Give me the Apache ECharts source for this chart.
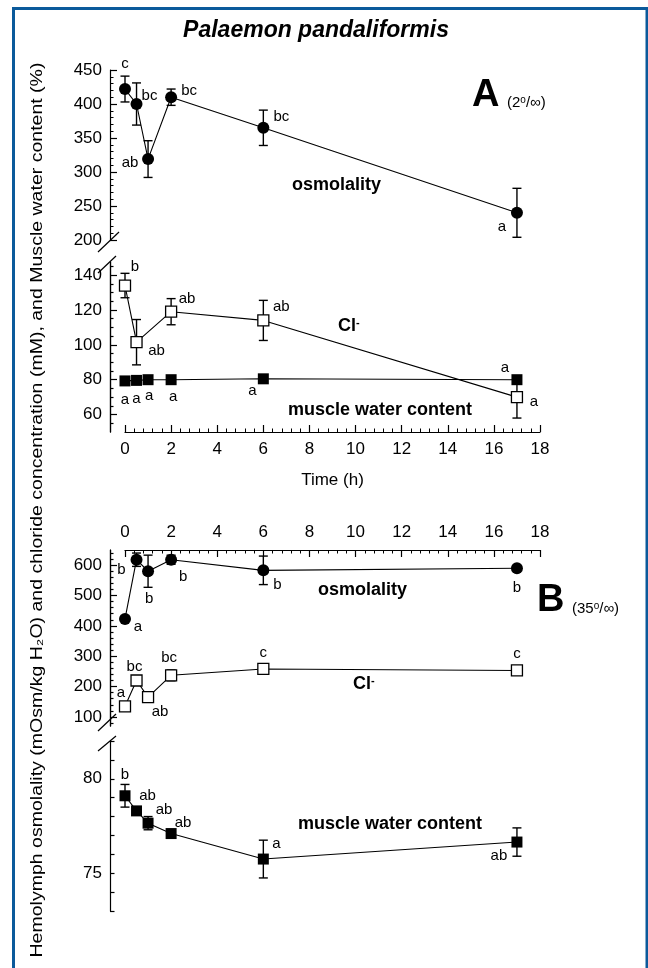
<!DOCTYPE html>
<html><head><meta charset="utf-8">
<script src="https://cdn.jsdelivr.net/npm/echarts@6/dist/echarts.min.js"></script>
<style>html,body{margin:0;padding:0;background:#fff}#c{width:648px;height:968px}</style>
</head><body><div id="c"></div>
<script>
// ---------------- DATA ----------------
const timeTicks = [0, 2, 4, 6, 8, 10, 12, 14, 16, 18];
// Panel A (2 ‰)
const tA = [0, 0.5, 1, 2, 6, 17];
const osmA = [422, 400, 319, 410, 365, 240];
const osmAErr = [19, 31, 27, 12, 26, 36];
const osmALetters = ['c', 'bc', 'ab', 'bc', 'bc', 'a'];
const tClA = [0, 0.5, 2, 6, 17];
const clA = [134, 101.5, 119, 114, 70];
const clAErr = [7, 13, 7.5, 11.5, 12];
const clALetters = ['b', 'ab', 'ab', 'ab', 'a'];
const mwcA = [79.3, 79.6, 80, 80, 80.5, 80];
const mwcALetters = ['a', 'a', 'a', 'a', 'a', 'a'];
const osmATicks = [200, 250, 300, 350, 400, 450];
const clATicks = [60, 80, 100, 120, 140];
// Panel B (35 ‰)
const tB = [0, 0.5, 1, 2, 6, 17];
const osmB = [423, 618, 580, 618, 583, 590];
const osmBErr = [8, 22, 53, 15, 47, 8];
const osmBLetters = ['a', 'b', 'b', 'b', 'b', 'b'];
const clB = [135, 220, 165, 237, 258, 253];
const clBErr = [6, 6, 6, 18, 6, 6];
const clBLetters = ['a', 'bc', 'ab', 'bc', 'c', 'c'];
const mwcB = [79.1, 78.3, 77.65, 77.1, 75.75, 76.65];
const mwcBErr = [0.6, 0.15, 0.35, 0.15, 1.0, 0.75];
const mwcBLetters = ['b', 'ab', 'ab', 'ab', 'a', 'ab'];
const osmBTicks = [100, 200, 300, 400, 500, 600];
const mwcBTicks = [75, 80];

// ---------------- LAYOUT / STYLE ----------------
const FONT = '"Liberation Sans", Arial, sans-serif';
const offOsmA = [[0,-25],[13,-8],[-18,4],[18,-6],[18,-11],[-15,14]];
const offClA = [[10,-19],[20,9],[16,-13],[18,-14],[17,5]];
const offMwcA = [[0,19],[0,18],[1,16],[2,17],[-11,12],[-12,-12]];
const offOsmB = [[13,8],[-15,10],[1,28],[12,17],[14,15],[0,20]];
const offClB = [[-4,-13],[-2,-14],[12,15],[-2,-17],[0,-16],[0,-17]];
const offMwcB = [[0,-21],[11,-15],[16,-13],[12,-11],[13,-15],[-18,14]];

function range(a, b, step, exclude) {
  const r = [];
  for (let v = a; v <= b + 1e-9; v += step) {
    if (!exclude || exclude.indexOf(v) < 0) r.push(v);
  }
  return r;
}

const chart = echarts.init(document.getElementById('c'), null, {renderer: 'canvas'});

const axisLineStyle = {show: true, onZero: false, lineStyle: {color: '#000', width: 1.2}};
const labelStyle = {color: '#000', fontSize: 17, fontFamily: FONT};

function xAx(gridIndex, show, position) {
  return {
    type: 'value', gridIndex, min: 0, max: 18, interval: 2, show,
    position: position || 'bottom',
    axisLine: axisLineStyle,
    axisTick: {show: true, inside: true, length: 7, lineStyle: {color: '#000', width: 1.2}},
    minorTick: {show: true, splitNumber: 5, length: 3.5, lineStyle: {color: '#000', width: 1}},
    axisLabel: Object.assign({margin: 9, customValues: timeTicks}, labelStyle),
    splitLine: {show: false}, minorSplitLine: {show: false}
  };
}
function yAx(gridIndex, min, max, labels, ticks, tickLen, opts) {
  return Object.assign({
    type: 'value', gridIndex, min, max, offset: 15, position: 'left',
    axisLine: axisLineStyle,
    axisTick: {show: true, inside: true, length: tickLen, customValues: ticks, lineStyle: {color: '#000', width: 1.2}},
    axisLabel: labels ? Object.assign({margin: 8, customValues: labels}, labelStyle) : {show: false},
    splitLine: {show: false}
  }, opts || {});
}

function lineSeries(xi, yi, xs, ys, symbol, size, fill) {
  return {
    type: 'line', xAxisIndex: xi, yAxisIndex: yi,
    data: xs.map((x, i) => [x, ys[i]]),
    symbol, symbolSize: size, showAllSymbol: true,
    itemStyle: {color: fill, borderColor: '#000', borderWidth: fill === '#fff' ? 1.3 : 0},
    lineStyle: {color: '#000', width: 1.1},
    animation: false, z: 4, clip: false
  };
}
function errSeries(xi, yi, xs, ys, errs) {
  return {
    type: 'custom', xAxisIndex: xi, yAxisIndex: yi, z: 3, animation: false, clip: false,
    data: xs.map((x, i) => [x, ys[i] - errs[i], ys[i] + errs[i]]),
    renderItem: function (params, api) {
      const lo = api.coord([api.value(0), api.value(1)]);
      const hi = api.coord([api.value(0), api.value(2)]);
      const w = 4.5;
      const st = {stroke: '#000', lineWidth: 1.4};
      return {type: 'group', children: [
        {type: 'line', shape: {x1: lo[0], y1: lo[1], x2: hi[0], y2: hi[1]}, style: st},
        {type: 'line', shape: {x1: lo[0] - w, y1: lo[1], x2: lo[0] + w, y2: lo[1]}, style: st},
        {type: 'line', shape: {x1: hi[0] - w, y1: hi[1], x2: hi[0] + w, y2: hi[1]}, style: st}
      ]};
    }
  };
}
function letterSeries(xi, yi, xs, ys, letters, offs) {
  return {
    type: 'scatter', xAxisIndex: xi, yAxisIndex: yi, symbolSize: 1, silent: true,
    itemStyle: {color: 'transparent'}, z: 6, animation: false, clip: false,
    label: {show: true, position: 'inside', color: '#000', fontSize: 15, fontFamily: FONT,
      textBorderWidth: 0, opacity: 1},
    data: xs.map((x, i) => ({value: [x, ys[i]], label: {formatter: letters[i], offset: offs[i]}}))
  };
}

const grids = [
  {left: 125, top: 70, width: 415, height: 170},   // A osmolality
  {left: 125, top: 262, width: 415, height: 170},  // A Cl + muscle
  {left: 125, top: 550, width: 415, height: 176},  // B osm + Cl
  {left: 125, top: 741, width: 415, height: 170}   // B muscle
];

const xAxes = [xAx(0, false), xAx(1, true, 'bottom'), xAx(2, true, 'top'), xAx(3, false)];
xAxes[1].name = 'Time (h)';
xAxes[1].nameLocation = 'middle';
xAxes[1].nameGap = 40;
xAxes[1].nameTextStyle = {color: '#000', fontSize: 17, fontFamily: FONT};

const yAxes = [
  Object.assign(yAx(0, 200, 450, osmATicks, osmATicks, 7), {
    minorTick: {show: true, splitNumber: 5, length: 3.5, lineStyle: {color: '#000'}}, interval: 50
  }),
  yAx(1, 50, 147.5, clATicks, clATicks, 7),
  yAx(1, 50, 147.5, null, range(55, 145, 5, clATicks), 3.5),
  yAx(2, 70, 650, osmBTicks, osmBTicks, 7),
  yAx(2, 70, 650, null, range(80, 640, 20, osmBTicks), 3.5),
  Object.assign(yAx(3, 73, 82, mwcBTicks, range(73, 82, 1), 4.5), {interval: 1})
];

const series = [
  // Panel A
  errSeries(0, 0, tA, osmA, osmAErr),
  lineSeries(0, 0, tA, osmA, 'circle', 12, '#000'),
  letterSeries(0, 0, tA, osmA, osmALetters, offOsmA),
  lineSeries(1, 1, tA, mwcA, 'rect', 11, '#000'),
  letterSeries(1, 1, tA, mwcA, mwcALetters, offMwcA),
  errSeries(1, 1, tClA, clA, clAErr),
  lineSeries(1, 1, tClA, clA, 'rect', 11, '#fff'),
  letterSeries(1, 1, tClA, clA, clALetters, offClA),
  // Panel B
  errSeries(2, 3, tB, osmB, osmBErr),
  lineSeries(2, 3, tB, osmB, 'circle', 12, '#000'),
  letterSeries(2, 3, tB, osmB, osmBLetters, offOsmB),
  errSeries(2, 3, tB, clB, clBErr),
  lineSeries(2, 3, tB, clB, 'rect', 11, '#fff'),
  letterSeries(2, 3, tB, clB, clBLetters, offClB),
  errSeries(3, 5, tB, mwcB, mwcBErr),
  lineSeries(3, 5, tB, mwcB, 'rect', 11, '#000'),
  letterSeries(3, 5, tB, mwcB, mwcBLetters, offMwcB)
];

function txt(x, y, text, font, extra) {
  return {type: 'text', x, y, silent: true, z: 10,
    style: Object.assign({text, font, fill: '#000', textAlign: 'left', textVerticalAlign: 'middle'}, extra || {})};
}
function brk(x1, y1, x2, y2) {
  return {type: 'line', silent: true, z: 10, shape: {x1, y1, x2, y2}, style: {stroke: '#000', lineWidth: 1.2}};
}
const boldF = 'bold 18px ' + FONT;
const subRich = {
  b: {fontSize: 18, fontWeight: 'bold', fontFamily: FONT, fill: '#000'},
  s: {fontSize: 11, fontWeight: 'bold', fontFamily: FONT, fill: '#000', verticalAlign: 'top'},
  n: {fontSize: 15, fontFamily: FONT, fill: '#000'},
  o: {fontSize: 10, fontFamily: FONT, fill: '#000', verticalAlign: 'top'}
};

const graphics = [
  {type: 'rect', silent: true, z: 0, shape: {x: 13.5, y: 8.5, width: 633.5, height: 1000},
    style: {fill: 'none', stroke: '#0b5a9b', lineWidth: 3}},
  txt(316, 31, 'Palaemon pandaliformis', 'italic bold 23px ' + FONT, {textAlign: 'center'}),
  txt(292, 185, 'osmolality', boldF),
  txt(472, 96, 'A', 'bold 38px ' + FONT),
  {type: 'text', x: 507, y: 103, silent: true, z: 10,
    style: {text: '{n|(2}{o|o}{n|/∞)}', rich: subRich, textVerticalAlign: 'middle'}},
  {type: 'text', x: 338, y: 326, silent: true, z: 10,
    style: {text: '{b|Cl}{s|-}', rich: subRich, textVerticalAlign: 'middle'}},
  txt(288, 410, 'muscle water content', boldF),
  txt(318, 590, 'osmolality', boldF),
  txt(537, 601, 'B', 'bold 38px ' + FONT),
  {type: 'text', x: 572, y: 609, silent: true, z: 10,
    style: {text: '{n|(35}{o|o}{n|/∞)}', rich: subRich, textVerticalAlign: 'middle'}},
  {type: 'text', x: 353, y: 684, silent: true, z: 10,
    style: {text: '{b|Cl}{s|-}', rich: subRich, textVerticalAlign: 'middle'}},
  txt(298, 824, 'muscle water content', boldF),
  {type: 'text', x: 38, y: 510, rotation: Math.PI / 2, scaleX: 1.22, silent: true, z: 10,
    style: {text: 'Hemolymph osmolality (mOsm/kg H\u2082O) and chloride concentration (mM), and Muscle water content (%)',
      font: '16px ' + FONT, fill: '#000', textAlign: 'center', textVerticalAlign: 'middle'}},
  brk(98, 252, 119, 232),
  brk(98, 273, 116, 256),
  brk(98, 731, 116, 714),
  brk(98, 751, 116, 736)
];

chart.setOption({
  animation: false,
  backgroundColor: '#fff',
  grid: grids,
  xAxis: xAxes,
  yAxis: yAxes,
  series,
  graphic: graphics
});
</script></body></html>
